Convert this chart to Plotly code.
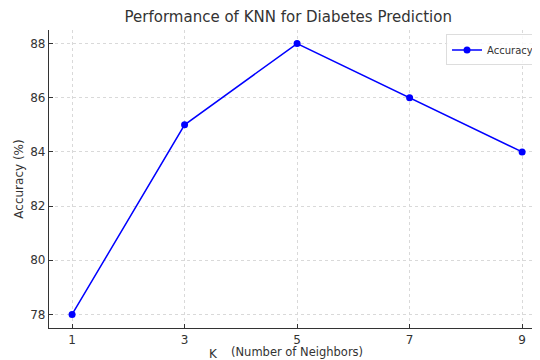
import plotly.graph_objects as go

k_values = [1, 3, 5, 7, 9]
accuracy = [78, 85, 88, 86, 84]
y_ticks = [78, 80, 82, 84, 86, 88]

font = "DejaVu Sans"
fig = go.Figure()
fig.add_trace(go.Scatter(
    x=k_values, y=accuracy, mode="lines+markers", name="Accuracy",
    line=dict(color="#0000ff", width=1.5),
    marker=dict(color="#0000ff", size=7),
))
fig.update_layout(
    width=540, height=360,
    margin=dict(l=41, r=0, t=22, b=40, autoexpand=False),
    paper_bgcolor="white", plot_bgcolor="white",
    font=dict(family=font, color="#333333", size=12),
    title=dict(text="Performance of KNN for Diabetes Prediction", x=0.519, xanchor="center",
               y=0.975, yanchor="middle", font=dict(size=15, color="#333333")),
    showlegend=True,
    legend=dict(x=0.982, y=0.985, xanchor="right", yanchor="top",
                bgcolor="rgba(255,255,255,0.8)", bordercolor="#dddddd", borderwidth=1,
                font=dict(size=10, color="#333333"), itemwidth=30),
    annotations=[
        dict(text="K", xref="paper", yref="paper", x=0.329, y=-0.087,
             xanchor="center", yanchor="middle", showarrow=False,
             font=dict(size=12, color="#333333")),
        dict(text="(Number of Neighbors)", xref="paper", yref="paper", x=0.496, y=-0.081,
             xanchor="center", yanchor="middle", showarrow=False,
             font=dict(size=11.5, color="#333333")),
    ],
)
fig.update_xaxes(
    range=[0.59, 9.46], tickvals=k_values, ticktext=[str(v) for v in k_values],
    showline=True, linecolor="#333333", linewidth=1.2, mirror=False, automargin=False,
    ticks="inside", ticklen=4, tickcolor="#333333",
    showgrid=True, gridcolor="#d9d9d9", griddash="dot", gridwidth=1, zeroline=False,
)
fig.update_yaxes(
    range=[77.5, 88.5], tickvals=y_ticks,
    showline=True, linecolor="#333333", linewidth=1.2, mirror=False, automargin=False,
    ticks="inside", ticklen=4, tickcolor="#333333",
    showgrid=True, gridcolor="#d9d9d9", griddash="dot", gridwidth=1, zeroline=False,
    title=dict(text="Accuracy (%)", standoff=4, font=dict(size=12)),
)
fig.write_html("out.html")
